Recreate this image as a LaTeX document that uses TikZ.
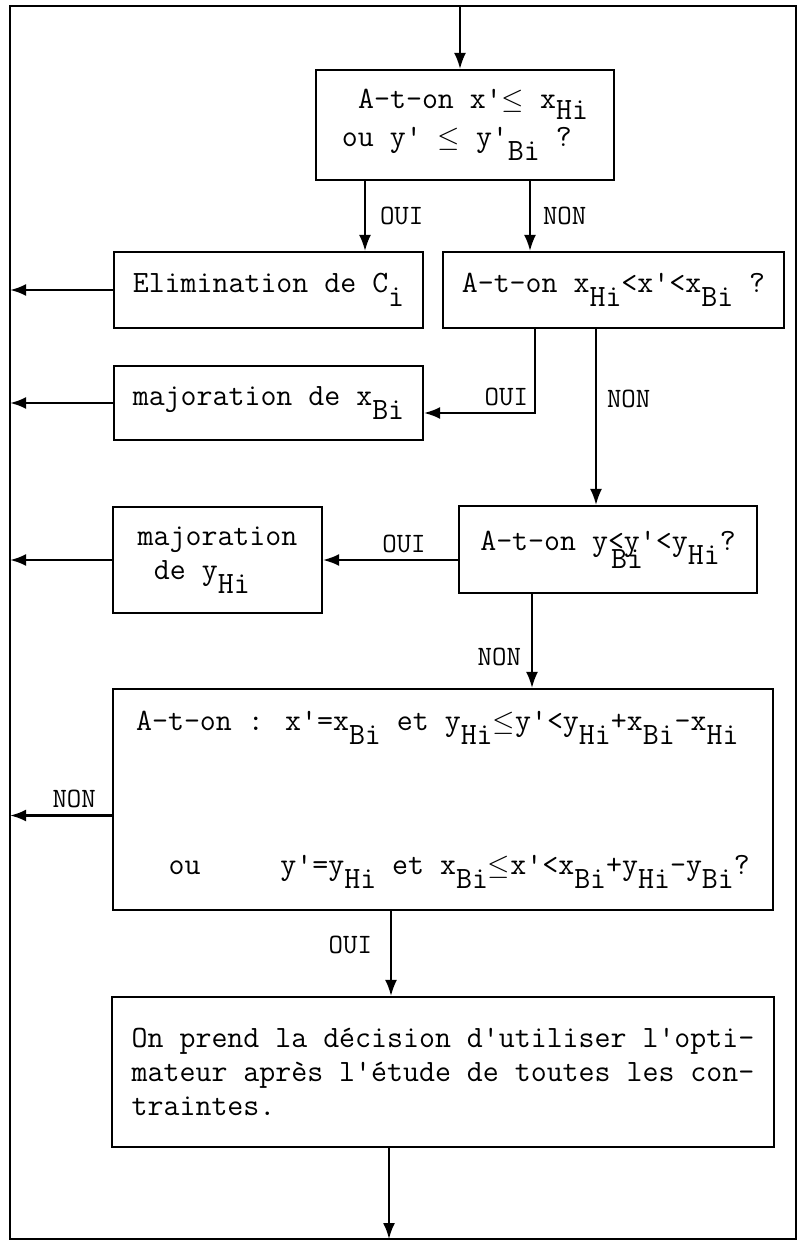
\documentclass[tikz,border=0pt]{standalone}
\usepackage{tikz}
\usetikzlibrary{arrows.meta,positioning,calc}
\newcommand{\lowsub}[1]{\raisebox{-7pt}{#1}}

\begin{document}
\begin{tikzpicture}[x=0.5pt,y=-0.5pt,
  font=\fontsize{15.5}{17}\selectfont\ttfamily,
  box/.style={draw, line width=1.1pt, align=left, inner sep=0pt},
  flow/.style={-{Latex[length=8pt,width=6pt]}, line width=1pt},
  lab/.style={font=\fontsize{14}{16}\selectfont\ttfamily, inner sep=3pt}]
\useasboundingbox (0,0) rectangle (803,1241);
% outer frame
\draw[line width=1pt] (10,6) rectangle (796,1239);
\coordinate (entry) at (460,6);
\coordinate (exit) at (389,1239);
\coordinate (frameW) at (10,0);
% tests and actions
\node[box, minimum width=149pt, minimum height=55pt] (ask1) at (465,125)
  {\hspace*{0.525em}A-t-on x'$\le$ x\raisebox{-5.5pt}{Hi}\\[2pt]ou y' $\le$ y'\lowsub{Bi} ?\hspace*{0.5em}};
\node[box, minimum width=154.5pt, minimum height=38pt] (elim) at (268.5,290)
  {Elimination de C\lowsub{i}};
\node[box, minimum width=170.5pt, minimum height=38pt] (ask2) at (613.5,290)
  {A-t-on x\lowsub{Hi}<x'<x\lowsub{Bi} ?};
\node[box, minimum width=154.5pt, minimum height=37pt] (majx) at (268.5,403)
  {majoration de x\lowsub{Bi}};
\node[box, minimum width=104.5pt, minimum height=53pt] (majy) at (217.5,560)
  {majoration\\\hspace*{0.525em}de y\lowsub{Hi}};
\node[box, minimum width=149pt, minimum height=43.5pt] (ask3) at (608,549.5)
  {A-t-on y\rlap{\hspace{0.1em}\raisebox{-9pt}{Bi}}<y'<y\lowsub{Hi}?};
\node[box, minimum width=330pt, minimum height=110.5pt] (ask4) at (443,799.5)
  {A-t-on : x'=x\lowsub{Bi} et y\lowsub{Hi}$\le$y'<y\lowsub{Hi}+x\lowsub{Bi}-x\lowsub{Hi}\\[55pt]
   \hspace*{1.05em}ou\ \ \ \ \ y'=y\lowsub{Hi} et x\lowsub{Bi}$\le$x'<x\lowsub{Bi}+y\lowsub{Hi}-y\lowsub{Bi}?};
\node[box, minimum width=331pt, minimum height=75pt] (decide) at (443,1072)
  {On prend la décision d'utiliser l'opti-\\mateur après l'étude de toutes les con-\\traintes.};
% branch points
\coordinate (b1) at ([xshift=-50pt]ask1.south);
\coordinate (b2) at ([xshift=32.5pt]ask1.south);
\coordinate (b3) at ([xshift=-39.25pt]ask2.south);
\coordinate (b4) at ([xshift=-8.75pt]ask2.south);
\coordinate (b5) at ([xshift=-38pt]ask3.south);
\coordinate (b6) at ([yshift=-8pt]ask4.west);
\coordinate (b7) at ([xshift=-26pt]ask4.south);
% connectors
\draw[flow] (entry) -- (entry |- ask1.north);
\draw[flow] (b1) -- (b1 |- elim.north) node[lab, midway, right=4pt] {OUI};
\draw[flow] (b2) -- (b2 |- ask2.north) node[lab, midway, right=3pt] {NON};
\draw[flow, line width=1.3pt] (elim.west) -- (elim.west -| frameW);
\draw[flow] (b3) |- ([yshift=-5pt]majx.east) node[lab, pos=0.5, anchor=south east] {OUI};
\draw[flow] (b4) -- (b4 |- ask3.north) node[lab, pos=0.4, right=2pt] {NON};
\draw[flow, line width=1.3pt] (majx.west) -- (majx.west -| frameW);
\draw[flow] (ask3.west |- majy.east) -- (majy.east) node[lab, pos=0.4, above] {OUI};
\draw[flow, line width=1.3pt] (majy.west) -- (majy.west -| frameW);
\draw[flow] (b5) -- (b5 |- ask4.north) node[lab, pos=0.67, left=2pt] {NON};
\draw[flow, line width=1.3pt] (b6) -- (b6 -| frameW) node[lab, pos=0.37, above] {NON};
\draw[flow] (b7) -- (b7 |- decide.north) node[lab, pos=0.4, left=6pt] {OUI};
\draw[flow] (decide.south -| exit) -- (exit);
\end{tikzpicture}
\end{document}
